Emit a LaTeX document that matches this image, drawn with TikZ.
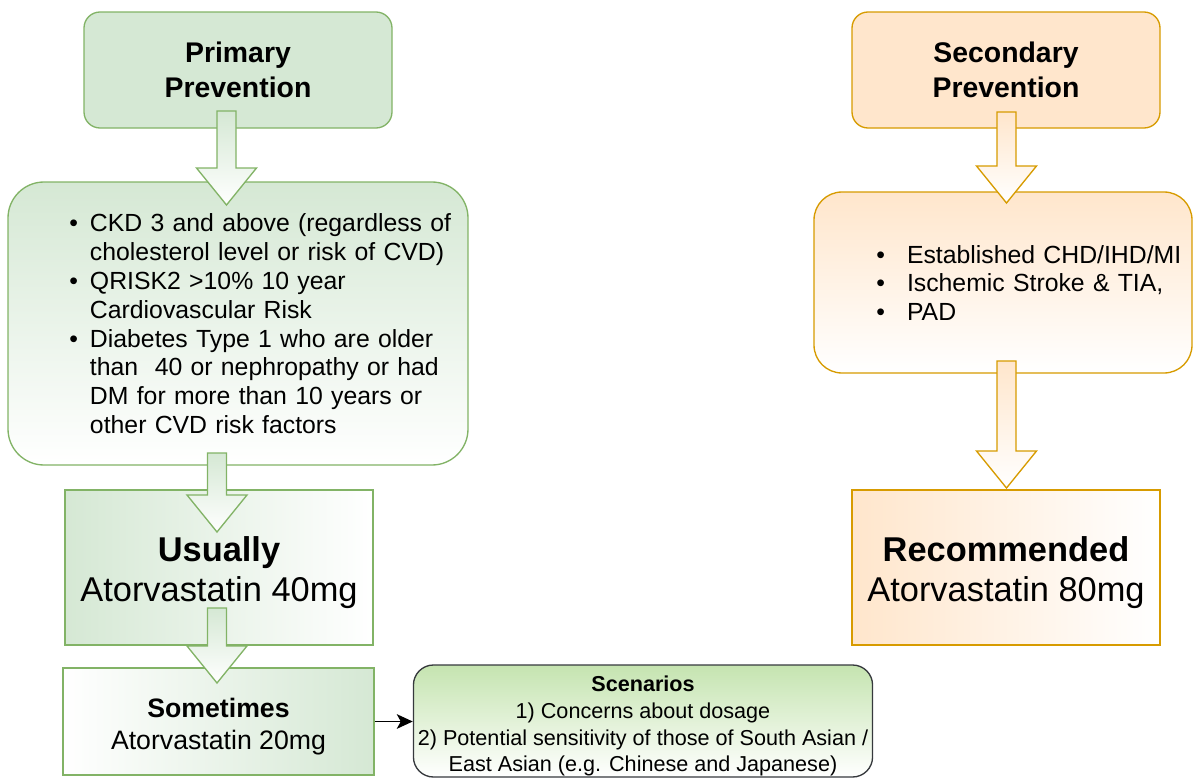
\documentclass[tikz,border=0pt]{standalone}
\usepackage{fontspec}
\setmainfont{Liberation Sans}
\usetikzlibrary{arrows.meta, calc}

\definecolor{gfill}{HTML}{D5E8D4}
\definecolor{gline}{HTML}{82B366}
\definecolor{ofill}{HTML}{FFE6CC}
\definecolor{oline}{HTML}{D79B00}
\definecolor{scfill}{HTML}{C5E4B0}
\definecolor{scline}{HTML}{36393D}

% bullet list used inside the criteria boxes: #1 left margin, #2 label sep
\newenvironment{critlist}[2]{%
  \begin{list}{\textbullet}{%
    \setlength{\leftmargin}{#1}\setlength{\labelsep}{#2}%
    \settowidth{\labelwidth}{\textbullet}%
    \setlength{\topsep}{0pt}\setlength{\partopsep}{0pt}%
    \setlength{\itemsep}{0pt}\setlength{\parsep}{0pt}}\raggedright}%
  {\end{list}\par\nointerlineskip\noindent\rule{0pt}{7.5pt}\par}

% invisible strut that pushes a centred label down
\newcommand{\lowerby}[1]{\rule{0pt}{#1}}

% hollow block arrow: style, x, y of shaft top, y of tip
\newcommand{\blockarrow}[4]{%
  \draw[#1] (#2-9.5,#3) -- (#2+9.5,#3) -- (#2+9.5,#4-37) -- (#2+30,#4-37)
    -- (#2,#4) -- (#2-30,#4-37) -- (#2-9.5,#4-37) -- cycle;}

\begin{document}
\begin{tikzpicture}[
    x=0.75pt, y=-0.75pt,
    every node/.style={font=\fontsize{18.6}{21.6}\selectfont},
    headbox/.style={draw, rounded corners=12pt, line width=1pt, minimum width=231pt, minimum height=87pt, align=center, font=\bfseries\fontsize{21.3}{26}\selectfont},
    critbox/.style={draw, rounded corners=#1, line width=1pt, inner sep=0pt},
    dosebox/.style={draw, line width=1pt, minimum width=231pt, minimum height=116.25pt, align=center, font=\fontsize{25.8}{30}\selectfont},
    smallbox/.style={draw, line width=1pt, minimum width=233.25pt, minimum height=80.25pt, align=center, font=\fontsize{20}{24}\selectfont},
    notebox/.style={draw=scline, rounded corners=15pt, line width=1pt, inner ysep=0pt, minimum width=343.5pt, minimum height=84pt, align=center, top color=scfill, bottom color=white, font=\fontsize{16.2}{20}\selectfont},
    garrow/.style={draw=gline, line width=1pt, top color=gfill, bottom color=white},
    oarrow/.style={draw=oline, line width=1pt, top color=ofill, bottom color=white},
    conn/.style={-{Stealth[length=12pt, width=11pt, inset=3pt]}, line width=1pt}
]
    \useasboundingbox (0,0) rectangle (1193,778);

    % Primary prevention column
    \node (prim) [headbox, draw=gline, fill=gfill] at (238, 70) {Primary\\Prevention};
    \node (primcrit) [critbox=27pt, draw=gline, top color=gfill, bottom color=white, text width=345pt, minimum height=212.25pt] at (238, 323.5) {%
      \begin{critlist}{61.5pt}{9pt}
      \item CKD 3 and above (regardless of\\cholesterol level or risk of CVD)
      \item QRISK2 >10\% 10 year\\Cardiovascular Risk
      \item Diabetes Type 1 who are older\\than \ 40 or nephropathy or had\\DM for more than 10 years or\\other CVD risk factors
      \end{critlist}};
    \node (usually) [dosebox, draw=gline, left color=gfill, right color=white] at (219, 567.5) {\lowerby{26.3pt}\textbf{Usually}\\Atorvastatin 40mg};
    \node (sometimes) [smallbox, draw=gline, left color=white, right color=gfill] at (218.5, 721.5) {\lowerby{22.3pt}\textbf{Sometimes}\\Atorvastatin 20mg};
    \node (scenarios) [notebox] at (643, 721) {\lowerby{19.8pt}\textbf{Scenarios}\\1) Concerns about dosage\\2) Potential sensitivity of those of South Asian /\\East Asian (e.g. Chinese and Japanese)};

    % Secondary prevention column
    \node (sec) [headbox, draw=oline, fill=ofill] at (1006, 70) {Secondary\\Prevention};
    \node (seccrit) [critbox=21pt, draw=oline, top color=ofill, bottom color=white, text width=283.5pt, minimum height=135.75pt] at (1003, 282.5) {%
      \begin{critlist}{69.75pt}{16.5pt}
      \item Established CHD/IHD/MI
      \item Ischemic Stroke \& TIA,
      \item PAD
      \end{critlist}};
    \node (recom) [dosebox, draw=oline, left color=ofill, right color=white] at (1006, 567.5) {\lowerby{26.3pt}\textbf{Recommended}\\Atorvastatin 80mg};

    % Block arrows
    \blockarrow{garrow}{226.5}{111}{205}
    \blockarrow{garrow}{217}{453}{532}
    \blockarrow{garrow}{217}{608}{683}
    \blockarrow{oarrow}{1006.5}{112}{203}
    \blockarrow{oarrow}{1006.5}{361}{488}

    % Sometimes to scenarios
    \draw [conn] (sometimes.east) -- (sometimes.east -| scenarios.west);

\end{tikzpicture}
\end{document}
